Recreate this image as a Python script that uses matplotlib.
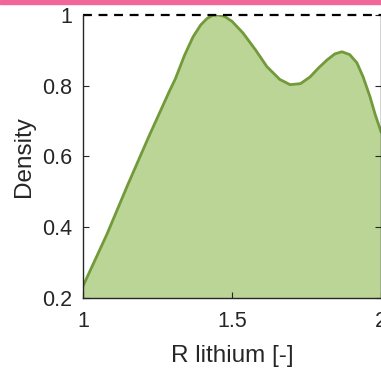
import matplotlib.pyplot as plt
from matplotlib.patches import Rectangle

plt.rcParams['font.family'] = ['Liberation Sans', 'DejaVu Sans']

# density curve of R lithium
r_lithium = [1.0, 1.08, 1.15, 1.22, 1.29, 1.31, 1.34, 1.369, 1.395, 1.416, 1.435, 1.453,
             1.475, 1.50, 1.537, 1.58, 1.617, 1.66, 1.695, 1.73, 1.762, 1.79, 1.819,
             1.845, 1.869, 1.895, 1.919, 1.94, 1.963, 1.98, 2.0]
density = [0.234, 0.38, 0.52, 0.655, 0.785, 0.82, 0.885, 0.938, 0.972, 0.99, 0.999, 1.0,
           0.996, 0.982, 0.949, 0.90, 0.854, 0.818, 0.803, 0.806, 0.825, 0.85, 0.873,
           0.89, 0.896, 0.888, 0.865, 0.825, 0.769, 0.72, 0.67]
x_ticks = [1, 1.5, 2]
x_tick_labels = ['1', '1.5', '2']
y_ticks = [0.2, 0.4, 0.6, 0.8, 1.0]
y_tick_labels = ['0.2', '0.4', '0.6', '0.8', '1']

fig = plt.figure(figsize=(3.81, 3.69), dpi=100)
ax = fig.add_axes([0.218, 0.1924, 0.782, 0.767])

ax.fill_between(r_lithium, density, 0.2, color='#bad596', lw=0)
ax.plot(r_lithium, density, color='#72993a', lw=2.0)
ax.axhline(1.0, color='black', ls=(0, (4, 3)), lw=1.6, clip_on=False)

ax.set_xlim(1, 2)
ax.set_ylim(0.2, 1.0)
ax.set_xticks(x_ticks)
ax.set_xticklabels(x_tick_labels)
ax.set_yticks(y_ticks)
ax.set_yticklabels(y_tick_labels)
ax.tick_params(direction='in', length=4, width=0.8, labelsize=15.5, colors='#262626',
               right=True, top=False)
ax.tick_params(axis='x', pad=9)
ax.tick_params(axis='y', pad=8)
ax.spines['top'].set_visible(False)
for side in ['left', 'bottom', 'right']:
    ax.spines[side].set_color('#262626')
    ax.spines[side].set_linewidth(1.0)

ax.set_xlabel('R lithium [-]', fontsize=17.5, color='#262626', labelpad=10)
ax.set_ylabel('Density', fontsize=17.5, color='#262626', labelpad=5)

# pink strip along the top edge
fig.patches.append(Rectangle((0, 0.99), 1, 0.01, transform=fig.transFigure,
                             color='#f2679a', zorder=5))

fig.savefig('out.png', dpi=100)
